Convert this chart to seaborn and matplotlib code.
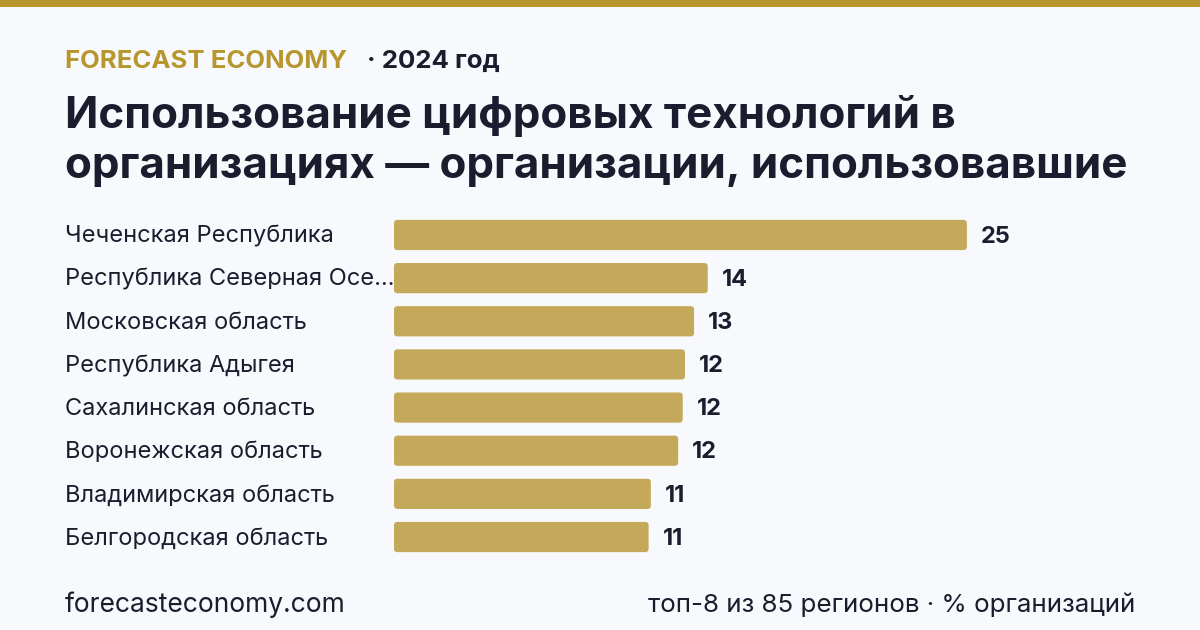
import matplotlib
matplotlib.use("Agg")
import matplotlib.pyplot as plt
import matplotlib.transforms as mtransforms
from matplotlib.patches import Rectangle, FancyBboxPatch
import seaborn as sns
import pandas as pd

# data
regions = [
    "Чеченская Республика",
    "Республика Северная Осе…",
    "Московская область",
    "Республика Адыгея",
    "Сахалинская область",
    "Воронежская область",
    "Владимирская область",
    "Белгородская область",
]
values = [25.2, 13.8, 13.2, 12.8, 12.7, 12.5, 11.3, 11.2]
value_labels = ["25", "14", "13", "12", "12", "12", "11", "11"]

brand = "FORECAST ECONOMY"
year_text = "· 2024 год"
title = "Использование цифровых технологий в\nорганизациях — организации, использовавшие"
footer_left = "forecasteconomy.com"
footer_right = "топ-8 из 85 регионов · % организаций"

BG = "#f8f9fc"
GOLD = "#b8962e"
BAR = "#c4a95a"
DARK = "#1c1c2e"

sns.set_theme(style="white")
plt.rcParams["font.family"] = ["Inter", "DejaVu Sans"]

W, H = 1200, 630
fig = plt.figure(figsize=(12, 6.3), dpi=100, facecolor=BG)

# axes placement in pixels
x0_px, x_max_px = 394, 1076
top_px, bot_px = 213.4, 558.6
ax = fig.add_axes([x0_px / W, 1 - bot_px / H, (x_max_px - x0_px) / W, (bot_px - top_px) / H])
ax.set_facecolor(BG)

df = pd.DataFrame({"region": regions, "value": values})
sns.barplot(data=df, x="value", y="region", color=BAR, width=0.7, ax=ax,
            saturation=1, edgecolor="none")
ax.set_xlim(0, 30)
ax.set_ylim(7.5, -0.5)

# rounded bars
px_x = (x_max_px - x0_px) / 30.0
px_y = (bot_px - top_px) / 8.0
for p in list(ax.patches):
    x, y = p.get_x(), p.get_y()
    w, h = p.get_width(), p.get_height()
    p.remove()
    fb = FancyBboxPatch((x, y), w, h,
                        boxstyle="round,pad=0,rounding_size=%f" % (3.5 / px_x),
                        mutation_aspect=px_x / px_y,
                        facecolor=BAR, edgecolor="none")
    ax.add_patch(fb)

for i, (v, lab) in enumerate(zip(values, value_labels)):
    ax.text(v + 14 / px_x, i + 0.04, lab, va="center", ha="left",
            fontsize=17, fontweight="bold", color=DARK)

trans = mtransforms.blended_transform_factory(fig.transFigure, ax.transData)
for i, r in enumerate(regions):
    ax.text(65 / W, i + 0.04, r, transform=trans, va="center", ha="left",
            fontsize=17, color=DARK)

ax.set_xlabel("")
ax.set_ylabel("")
ax.set_xticks([])
ax.set_yticks([])
for s in ax.spines.values():
    s.set_visible(False)

# top strip
fig.add_artist(Rectangle((0, 1 - 7 / H), 1, 7 / H, transform=fig.transFigure,
                         facecolor=GOLD, edgecolor="none"))

# header
fig.text(65 / W, 1 - 61 / H, brand, fontsize=18.5, fontweight="bold",
         color=GOLD, va="center", ha="left")
fig.text(367 / W, 1 - 61 / H, year_text, fontsize=18.6, fontweight="bold",
         color=DARK, va="center", ha="left")
fig.text(65 / W, 1 - 141 / H, title, fontsize=31.6, fontweight="bold",
         color=DARK, va="center", ha="left", linespacing=1.28)

# footer
fig.text(65 / W, 1 - 605 / H, footer_left, fontsize=19, color=DARK,
         va="center", ha="left")
fig.text(1135 / W, 1 - 605 / H, footer_right, fontsize=18.7, color=DARK,
         va="center", ha="right")

fig.savefig("out.png", dpi=100, facecolor=BG)
